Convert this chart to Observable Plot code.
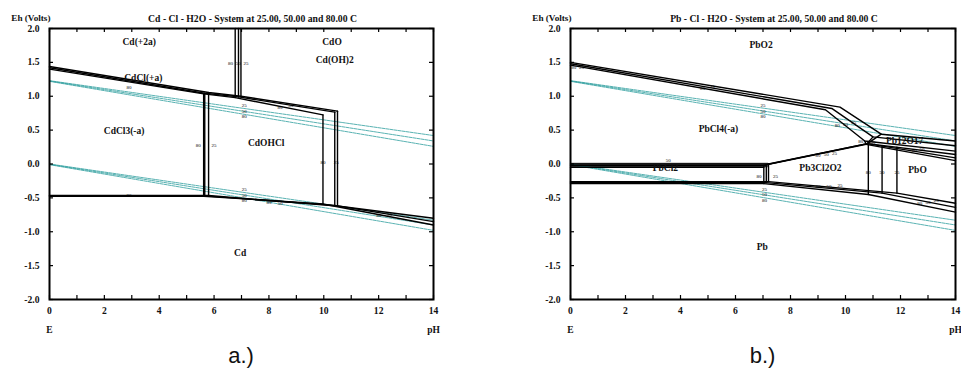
<!DOCTYPE html>
<html>
<head>
<meta charset="utf-8">
<script src="https://cdn.jsdelivr.net/npm/d3@7"></script>
<script src="https://cdn.jsdelivr.net/npm/@observablehq/plot@0.6"></script>
<style>
  body { margin: 0; background: #fff; width: 961px; height: 375px; position: relative; overflow: hidden; }
  .panel { position: absolute; top: 0; width: 480px; height: 340px; }
  .cap { position: absolute; top: 343px; font-family: "Liberation Sans", Arial, sans-serif; font-size: 22px; text-align: center; color: #111; }
</style>
</head>
<body>
<div id="a" class="panel" style="left:0px"></div>
<div id="b" class="panel" style="left:480px"></div>
<div class="cap" style="left:49px;width:384px">a.)</div>
<div class="cap" style="left:570px;width:385px">b.)</div>
<script>
// ---- axes ----
const pHTickMarks = [0, 1, 2, 3, 4, 5, 6, 7, 8, 9, 10, 11, 12, 13, 14];
const pHTickLabels = [0, 2, 4, 6, 8, 10, 12, 14];
const ehTicks = [-2, -1.5, -1, -0.5, 0, 0.5, 1, 1.5, 2];

// ---- water stability lines (Eh at pH 0 and pH 14) for 25, 50, 80 C ----
const waterO2 = [["25", 1.23, 0.42], ["50", 1.225, 0.34], ["80", 1.22, 0.26]];
const waterH2 = [["25", 0.0, -0.83], ["50", -0.005, -0.90], ["80", -0.01, -0.98]];

// ---- Cd - Cl - H2O boundaries: [id, [[pH, Eh], ...]] ----
const cdUpper = [
  ["u25", [[0, 1.44], [5.8, 1.055], [6.98, 1.0], [10.5, 0.78]]],
  ["u50", [[0, 1.42], [5.66, 1.045], [6.89, 0.99], [10.4, 0.765]]],
  ["u80", [[0, 1.40], [5.62, 1.035], [6.77, 0.98], [9.97, 0.725]]]
];
const cdOxideVerticals = [
  ["o25", [[6.98, 2.0], [6.98, 1.0]]],
  ["o50", [[6.89, 2.0], [6.89, 0.99]]],
  ["o80", [[6.77, 2.0], [6.77, 0.98]]]
];
const cdChlorideVerticals = [
  ["c25", [[5.8, 1.055], [5.8, -0.465]]],
  ["c50", [[5.66, 1.045], [5.66, -0.47]]],
  ["c80", [[5.62, 1.035], [5.62, -0.475]]]
];
const cdHydroxyVerticals = [
  ["h25", [[10.5, 0.78], [10.5, -0.62]]],
  ["h50", [[10.4, 0.765], [10.4, -0.61]]],
  ["h80", [[9.97, 0.725], [9.97, -0.59]]]
];
const cdLower = [
  ["l25", [[0, -0.465], [5.8, -0.465], [10.5, -0.62], [14, -0.80]]],
  ["l50", [[0, -0.47], [5.66, -0.47], [10.4, -0.61], [14, -0.85]]],
  ["l80", [[0, -0.475], [5.62, -0.475], [9.97, -0.59], [14, -0.90]]]
];
const cdRegions = [
  ["Cd(+2a)", 3.27, 1.80], ["CdO", 10.3, 1.80], ["Cd(OH)2", 10.4, 1.53],
  ["CdCl(+a)", 3.42, 1.27], ["CdCl3(-a)", 2.72, 0.49], ["CdOHCl", 7.9, 0.31], ["Cd", 6.95, -1.31]
];
const cdTempMarks = [
  ["80", 6.6, 1.49], ["50", 6.88, 1.49], ["25", 7.16, 1.49],
  ["80", 2.9, 1.13],
  ["80", 5.42, 0.28], ["25", 6.0, 0.28],
  ["25", 7.1, 0.86], ["50", 7.1, 0.78], ["80", 7.1, 0.70],
  ["80", 8.4, 0.84], ["50", 8.8, 0.87],
  ["80", 9.97, 0.02], ["25", 10.45, 0.03],
  ["80", 2.9, -0.47],
  ["25", 7.1, -0.38], ["50", 7.1, -0.46], ["80", 7.1, -0.54],
  ["80", 8.0, -0.57], ["50", 8.4, -0.58],
  ["80", 12.0, -0.76], ["50", 12.4, -0.75]
];

// ---- Pb - Cl - H2O boundaries ----
const pbDioxide = [
  ["d25", [[0, 1.50], [9.8, 0.84], [11.3, 0.44], [14, 0.34]]],
  ["d50", [[0, 1.48], [9.5, 0.82], [11.0, 0.40], [14, 0.27]]],
  ["d80", [[0, 1.46], [9.27, 0.80], [10.7, 0.34], [14, 0.19]]]
];
const pbLinks = [
  ["k25", [[11.3, 0.44], [10.8, 0.30]]],
  ["k50", [[11.0, 0.40], [10.78, 0.30]]],
  ["k80", [[10.7, 0.34], [10.75, 0.29]]]
];
const pbOxideTop = [
  ["t25", [[10.8, 0.30], [14, 0.14]]],
  ["t50", [[10.78, 0.30], [14, 0.09]]],
  ["t80", [[10.75, 0.29], [14, 0.05]]]
];
const pbOxyChlorideTop = [
  ["x25", [[7.2, 0.0], [10.8, 0.30]]],
  ["x50", [[7.12, -0.01], [10.78, 0.30]]],
  ["x80", [[7.03, -0.02], [10.75, 0.29]]]
];
const pbChloride = [
  ["p25", [[0, 0.0], [7.2, 0.0]]],
  ["p50", [[0, -0.025], [7.12, -0.025]]],
  ["p80", [[0, -0.05], [7.03, -0.05]]]
];
const pbChlorideBand = [[0, -0.055, 0.012], [7.2, -0.055, 0.012]];
const pbOxyChlorideLeft = [
  ["y25", [[7.2, 0.0], [7.2, -0.26]]],
  ["y50", [[7.12, -0.01], [7.12, -0.275]]],
  ["y80", [[7.03, -0.02], [7.03, -0.29]]]
];
const pbOxideVerticals = [
  ["v25", [[11.87, 0.247], [11.87, -0.43]]],
  ["v50", [[11.33, 0.264], [11.33, -0.43]]],
  ["v80", [[10.83, 0.284], [10.83, -0.45]]]
];
const pbLower = [
  ["m25", [[0, -0.26], [7.2, -0.26], [11.87, -0.43], [14, -0.58]]],
  ["m50", [[0, -0.275], [7.12, -0.275], [11.33, -0.43], [14, -0.64]]],
  ["m80", [[0, -0.29], [7.03, -0.29], [10.83, -0.45], [14, -0.71]]]
];
const pbRegions = [
  ["PbO2", 6.93, 1.75], ["PbCl4(-a)", 5.38, 0.52], ["PbCl2", 3.45, -0.065],
  ["Pb3Cl2O2", 9.09, -0.055], ["PbO", 12.62, -0.09], ["Pb", 6.97, -1.22], ["Pb12O17", 12.15, 0.34]
];
const pbTempMarks = [
  ["80", 0.12, 1.43], ["25", 0.4, 1.43],
  ["80", 4.8, 1.12], ["25", 5.15, 1.14],
  ["25", 7.0, 0.86], ["50", 7.0, 0.78], ["80", 7.0, 0.70],
  ["80", 9.7, 0.57], ["50", 10.0, 0.59], ["25", 10.3, 0.61],
  ["80", 10.55, 0.33], ["50", 11.0, 0.32],
  ["80", 9.0, 0.12], ["50", 9.3, 0.14], ["25", 9.6, 0.16],
  ["80", 6.85, -0.19], ["25", 7.45, -0.19],
  ["80", 10.83, -0.13], ["50", 11.33, -0.13], ["25", 11.87, -0.13],
  ["80", 3.5, -0.27], ["50", 3.55, 0.06],
  ["80", 12.5, 0.2], ["50", 12.78, 0.21],
  ["80", 9.0, -0.33], ["50", 9.4, -0.33], ["25", 9.8, -0.32],
  ["25", 7.05, -0.37], ["50", 7.05, -0.45], ["80", 7.05, -0.53],
  ["80", 12.7, -0.58], ["50", 13.0, -0.56], ["25", 13.3, -0.54]
];

// ---- helpers ----
const serif = "'Liberation Serif', 'Times New Roman', serif";
const toRows = (...groups) => groups.flat().flatMap(([id, pts]) => pts.map(([pH, Eh]) => ({id, pH, Eh})));
const waterRows = [
  ...waterO2.flatMap(([T, e0, e14]) => [{id: "o" + T, pH: 0, Eh: e0}, {id: "o" + T, pH: 14, Eh: e14}]),
  ...waterH2.flatMap(([T, e0, e14]) => [{id: "h" + T, pH: 0, Eh: e0}, {id: "h" + T, pH: 14, Eh: e14}])
];

function pourbaix({title, lines, regions, temps, band, marginLeft, marginRight}) {
  const width = 480, height = 340, marginTop = 28, marginBottom = 41;
  const innerW = width - marginLeft - marginRight;
  const innerH = height - marginTop - marginBottom;
  const tick = 4;
  const marks = [];
  if (band) {
    marks.push(Plot.areaY(band, {x: d => d[0], y1: d => d[1], y2: d => d[2], fill: "#5c5c5c"}));
  }
  marks.push(
    Plot.line(waterRows, {x: "pH", y: "Eh", z: "id", stroke: "#2f9e9e", strokeWidth: 0.8, strokeDasharray: "3,1"}),
    Plot.line(lines, {x: "pH", y: "Eh", z: "id", stroke: "#000", strokeWidth: 1.4, curve: "linear"}),
    Plot.text(temps, {x: d => d[1], y: d => d[2], text: d => d[0], fontSize: 5, fontFamily: serif, fill: "#000"}),
    Plot.text(regions, {x: d => d[1], y: d => d[2], text: d => d[0], fontSize: 9.5, fontWeight: "bold", fontFamily: serif, fill: "#111"}),
    Plot.frame({stroke: "#000", strokeWidth: 2}),
    Plot.ruleY(ehTicks, {y: d => d, insetRight: innerW - tick, stroke: "#000", strokeWidth: 1.2}),
    Plot.ruleY(ehTicks, {y: d => d, insetLeft: innerW - tick, stroke: "#000", strokeWidth: 1.2}),
    Plot.ruleX(pHTickMarks, {x: d => d, insetBottom: innerH - tick, stroke: "#000", strokeWidth: 1.2}),
    Plot.ruleX(pHTickMarks, {x: d => d, insetTop: innerH - tick, stroke: "#000", strokeWidth: 1.2}),
    Plot.text(ehTicks, {y: d => d, frameAnchor: "left", dx: -10, textAnchor: "end", text: d => d.toFixed(1), fontSize: 9.6, fontWeight: "bold", fontFamily: serif, fill: "#111"}),
    Plot.text(pHTickLabels, {x: d => d, frameAnchor: "bottom", dy: 14, text: d => String(d), fontSize: 9.6, fontWeight: "bold", fontFamily: serif, fill: "#111"}),
    Plot.text(["E"], {x: 0, frameAnchor: "bottom", dy: 33, text: d => d, fontSize: 9.5, fontWeight: "bold", fontFamily: serif, fill: "#111"}),
    Plot.text(["pH"], {x: 14, frameAnchor: "bottom", dy: 33, text: d => d, fontSize: 9.5, fontWeight: "bold", fontFamily: serif, fill: "#111"}),
    Plot.text(["Eh (Volts)"], {frameAnchor: "top-left", dx: 1, dy: -14, textAnchor: "end", text: d => d, fontSize: 9.2, fontWeight: "bold", fontFamily: serif, fill: "#111"}),
    Plot.text([title], {frameAnchor: "top", dx: 11, dy: -13, text: d => d, fontSize: 9.7, fontWeight: "bold", fontFamily: serif, fill: "#111"})
  );
  return Plot.plot({
    width, height, marginTop, marginBottom, marginLeft, marginRight,
    style: {background: "transparent", overflow: "visible"},
    x: {domain: [0, 14], axis: null},
    y: {domain: [-2, 2], axis: null},
    marks
  });
}

document.getElementById("a").append(pourbaix({
  title: "Cd - Cl - H2O - System at 25.00, 50.00 and 80.00 C",
  lines: toRows(cdUpper, cdOxideVerticals, cdChlorideVerticals, cdHydroxyVerticals, cdLower),
  regions: cdRegions,
  temps: cdTempMarks,
  marginLeft: 49, marginRight: 47
}));

document.getElementById("b").append(pourbaix({
  title: "Pb - Cl - H2O - System at 25.00, 50.00 and 80.00 C",
  lines: toRows(pbDioxide, pbLinks, pbOxideTop, pbOxyChlorideTop, pbChloride, pbOxyChlorideLeft, pbOxideVerticals, pbLower),
  regions: pbRegions,
  temps: pbTempMarks,
  band: pbChlorideBand,
  marginLeft: 90, marginRight: 5
}));
</script>
</body>
</html>
